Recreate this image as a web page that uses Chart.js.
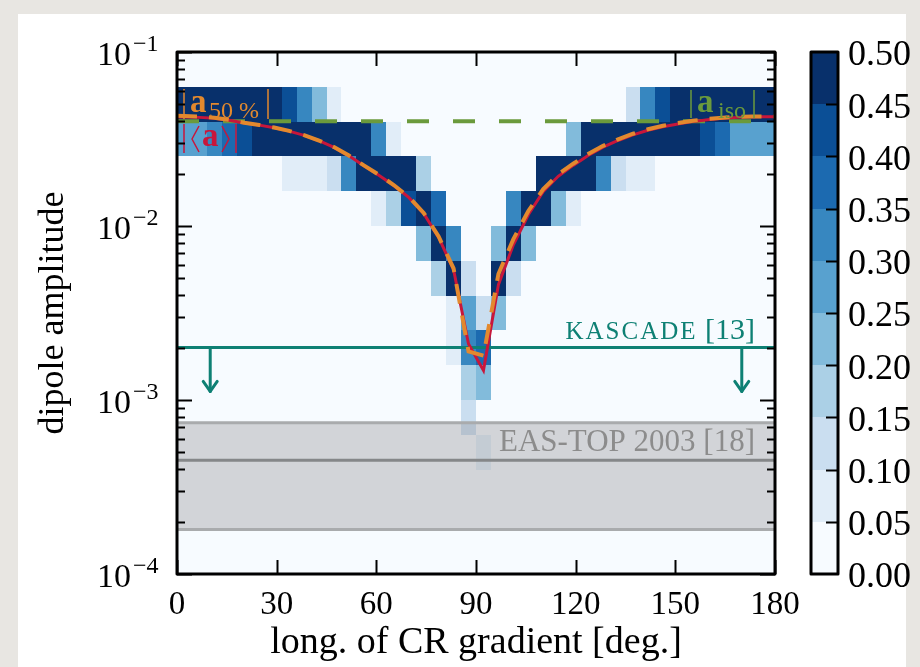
<!DOCTYPE html>
<html>
<head>
<meta charset="utf-8">
<script src="https://cdn.jsdelivr.net/npm/chart.js@4.4.0/dist/chart.umd.min.js"></script>
<style>
  html, body { margin: 0; padding: 0; background: #e8e6e2; }
  #wrap { width: 920px; height: 667px; }
</style>
</head>
<body>
<div id="wrap"><canvas id="dipoleChart" width="920" height="667"></canvas></div>
<script>
// longitude bins of the CR gradient are 4.5 deg. wide (40 bins over 0..180)
const lonBinWidth = 4.5;
// upper edge (log10 of dipole amplitude) of each histogram row, rows are 0.2 dex tall
const ampRowTop = [-1.2, -1.4, -1.6, -1.8, -2.0, -2.2, -2.4, -2.6, -2.8, -3.0, -3.2];
const ampRowHeight = 0.2;

// fraction of realisations in each cell, one array (40 lon bins) per amplitude row
const fracRows = [
  [0.5,0.5,0.5,0.5,0.5,0.5,0.5,0.42,0.32,0.22,0.07, 0,0,0,0,0,0,0,0,0,0,0,0,0,0,0,0,0,0,0, 0.12,0.32,0.42,0.5,0.5,0.5,0.5,0.5,0.5,0.5],
  [0.28,0.27,0.31,0.36,0.42, 0.5,0.5,0.5,0.5,0.5,0.5,0.5,0.5, 0.32,0.07, 0,0,0,0,0,0,0,0,0,0,0, 0.22, 0.5,0.5,0.5,0.5,0.5,0.5,0.5,0.5, 0.42,0.37,0.28,0.28,0.28],
  [0,0,0,0,0,0,0, 0.07,0.07,0.07,0.12,0.32, 0.5,0.5,0.5,0.5, 0.17, 0,0,0,0,0,0,0, 0.5,0.5,0.5,0.5, 0.32,0.12,0.07,0.07, 0,0,0,0,0,0,0,0],
  [0,0,0,0,0,0,0,0,0,0,0,0,0, 0.07,0.17,0.42,0.5,0.37, 0,0,0,0, 0.32,0.5,0.5,0.22,0.07, 0,0,0,0,0,0,0,0,0,0,0,0,0],
  [0,0,0,0,0,0,0,0,0,0,0,0,0,0,0,0, 0.22,0.5,0.32, 0,0, 0.22,0.5,0.22, 0,0,0,0,0,0,0,0,0,0,0,0,0,0,0,0],
  [0,0,0,0,0,0,0,0,0,0,0,0,0,0,0,0,0, 0.17,0.5,0.11, 0, 0.5,0.12, 0,0,0,0,0,0,0,0,0,0,0,0,0,0,0,0,0],
  [0,0,0,0,0,0,0,0,0,0,0,0,0,0,0,0,0,0, 0.08,0.28,0.12,0.21, 0,0,0,0,0,0,0,0,0,0,0,0,0,0,0,0,0,0],
  [0,0,0,0,0,0,0,0,0,0,0,0,0,0,0,0,0,0, 0.07,0.33,0.37, 0,0,0,0,0,0,0,0,0,0,0,0,0,0,0,0,0,0,0],
  [0,0,0,0,0,0,0,0,0,0,0,0,0,0,0,0,0,0,0, 0.17,0.22, 0,0,0,0,0,0,0,0,0,0,0,0,0,0,0,0,0,0,0],
  [0,0,0,0,0,0,0,0,0,0,0,0,0,0,0,0,0,0,0, 0.12,0, 0,0,0,0,0,0,0,0,0,0,0,0,0,0,0,0,0,0,0],
  [0,0,0,0,0,0,0,0,0,0,0,0,0,0,0,0,0,0,0, 0,0.08, 0,0,0,0,0,0,0,0,0,0,0,0,0,0,0,0,0,0,0]
];

// discrete Blues colour levels, 0.05 wide
const levelStep = 0.05;
const levelColors = ['#f7fbff', '#e1edf8', '#cadef0', '#abd0e6', '#82bbdb', '#58a1cf', '#3787c0', '#1c6ab0', '#0b4f96', '#08306b'];
const colorbarLabels = ['0.00', '0.05', '0.10', '0.15', '0.20', '0.25', '0.30', '0.35', '0.40', '0.45', '0.50'];

// reconstructed amplitudes vs. longitude (bin centres plus the two ends)
const curveLon = [0, 2.25, 6.75, 11.25, 15.75, 20.25, 24.75, 29.25, 33.75, 38.25, 42.75, 47.25, 51.75, 56.25, 60.75, 65.25, 69.75, 74.25, 78.75, 83.25, 87.75,
  92.25, 96.75, 101.25, 105.75, 110.25, 114.75, 119.25, 123.75, 128.25, 132.75, 137.25, 141.75, 146.25, 150.75, 155.25, 159.75, 164.25, 168.75, 173.25, 177.75, 180];
const meanAmp = [0.0423, 0.0423, 0.0421, 0.0416, 0.0405, 0.0391, 0.0380, 0.0367, 0.0351, 0.0332, 0.0309, 0.0283, 0.0253, 0.0222, 0.0196, 0.0171, 0.0146, 0.0118, 0.0086, 0.0056, 0.0021,
  0.00148, 0.0046, 0.0078, 0.0116, 0.0158, 0.0193, 0.0223, 0.0254, 0.0284, 0.0310, 0.0334, 0.0355, 0.0372, 0.0386, 0.0398, 0.0408, 0.0416, 0.0421, 0.0424, 0.0425, 0.0425];
const medianAmp = [0.0430, 0.0429, 0.0426, 0.0419, 0.0407, 0.0392, 0.0381, 0.0368, 0.0352, 0.0333, 0.0310, 0.0284, 0.0254, 0.0223, 0.0197, 0.0172, 0.0147, 0.0119, 0.0087, 0.0057, 0.0019,
  0.0018, 0.0053, 0.0084, 0.0122, 0.0163, 0.0198, 0.0228, 0.0259, 0.0289, 0.0315, 0.0339, 0.0360, 0.0377, 0.0391, 0.0403, 0.0412, 0.0419, 0.0424, 0.0426, 0.0426, 0.0426];

const isoAmp = 0.04;
const kascadeLimit = 2e-3;
const kascadeArrowLon = [10, 170];
const kascadeArrowTip = 1.12e-3;
// EAS-TOP 2003: upper edge, central value, lower edge
const easTop = [7.4e-4, 4.5e-4, 1.8e-4];

const xTicks = [0, 30, 60, 90, 120, 150, 180];
const yDecades = [-1, -2, -3, -4];

const SERIF = "'Liberation Serif', 'DejaVu Serif', serif";
const C_MEAN = '#c8163b';
const C_MEDIAN = '#e3892e';
const C_ISO = '#6b9a3c';
const C_KASCADE = '#0e8074';

function flat(v) {
  return [{ x: 0, y: v }, { x: 180, y: v }];
}

// page background, white card and the empty plot face
const backdrop = {
  id: 'backdrop',
  beforeDraw(chart) {
    const { ctx, chartArea: a } = chart;
    ctx.save();
    ctx.fillStyle = '#e8e6e2';
    ctx.fillRect(0, 0, chart.width, chart.height);
    ctx.fillStyle = '#ffffff';
    ctx.fillRect(18, 14, 888, chart.height - 14);
    ctx.fillStyle = levelColors[0];
    ctx.fillRect(a.left, a.top, a.right - a.left, a.bottom - a.top);
    ctx.restore();
  }
};

// 2D histogram cells
const heatmap = {
  id: 'heatmap',
  beforeDatasetsDraw(chart) {
    const { ctx, chartArea: a, scales: { x, y } } = chart;
    ctx.save();
    ctx.beginPath();
    ctx.rect(a.left, a.top, a.right - a.left, a.bottom - a.top);
    ctx.clip();
    fracRows.forEach((row, r) => {
      const yTop = Math.round(y.getPixelForValue(Math.pow(10, ampRowTop[r])));
      const yBot = Math.round(y.getPixelForValue(Math.pow(10, ampRowTop[r] - ampRowHeight)));
      row.forEach((f, i) => {
        const lvl = Math.min(levelColors.length - 1, Math.floor(f / levelStep + 1e-9));
        if (lvl <= 0) return;
        const x0 = Math.round(x.getPixelForValue(i * lonBinWidth));
        const x1 = Math.round(x.getPixelForValue((i + 1) * lonBinWidth));
        ctx.fillStyle = levelColors[lvl];
        ctx.fillRect(x0, yTop, x1 - x0, yBot - yTop);
      });
    });
    ctx.restore();
  }
};

function seg(ctx, x0, y0, x1, y1) {
  ctx.beginPath();
  ctx.moveTo(x0, y0);
  ctx.lineTo(x1, y1);
  ctx.stroke();
}

// arrows, text labels, frame, ticks and colorbar
const decorations = {
  id: 'decorations',
  afterDatasetsDraw(chart) {
    const { ctx, chartArea: a, scales: { x, y } } = chart;
    ctx.save();

    // KASCADE upper-limit arrows
    ctx.strokeStyle = C_KASCADE;
    ctx.lineWidth = 3;
    ctx.lineCap = 'round';
    ctx.lineJoin = 'round';
    kascadeArrowLon.forEach(lon => {
      const px = x.getPixelForValue(lon);
      const y0 = y.getPixelForValue(kascadeLimit);
      const y1 = y.getPixelForValue(kascadeArrowTip);
      seg(ctx, px, y0, px, y1);
      ctx.beginPath();
      ctx.moveTo(px - 7, y1 - 10);
      ctx.lineTo(px, y1);
      ctx.lineTo(px + 7, y1 - 10);
      ctx.stroke();
    });
    ctx.lineCap = 'butt';

    // KASCADE label in small caps
    const kY = y.getPixelForValue(kascadeLimit) - 9;
    ctx.fillStyle = C_KASCADE;
    ctx.textBaseline = 'alphabetic';
    ctx.textAlign = 'right';
    ctx.font = '30px ' + SERIF;
    const refTxt = ' [13]';
    const refW = ctx.measureText(refTxt).width;
    ctx.fillText(refTxt, a.right - 20, kY);
    ctx.font = '25px ' + SERIF;
    ctx.letterSpacing = '2px';
    ctx.fillText('KASCADE', a.right - 20 - refW, kY);
    ctx.letterSpacing = '0px';

    // EAS-TOP label
    ctx.fillStyle = '#8c8c8c';
    ctx.font = '31px ' + SERIF;
    ctx.fillText('EAS-TOP 2003 [18]', a.right - 20, y.getPixelForValue(easTop[1]) - 9);

    // |a_50%| label
    ctx.textAlign = 'left';
    ctx.strokeStyle = C_MEDIAN;
    ctx.fillStyle = C_MEDIAN;
    ctx.lineWidth = 1.5;
    seg(ctx, a.left + 7, a.top + 37, a.left + 7, a.top + 67);
    seg(ctx, a.left + 91, a.top + 37, a.left + 91, a.top + 67);
    ctx.font = 'bold 33px ' + SERIF;
    ctx.fillText('a', a.left + 13, a.top + 60);
    ctx.font = '24px ' + SERIF;
    ctx.fillText('50 %', a.left + 32, a.top + 66);

    // |<a>| label
    ctx.strokeStyle = C_MEAN;
    ctx.fillStyle = C_MEAN;
    seg(ctx, a.left + 7, a.top + 72, a.left + 7, a.top + 101);
    seg(ctx, a.left + 59, a.top + 72, a.left + 59, a.top + 101);
    ctx.beginPath();
    ctx.moveTo(a.left + 22, a.top + 74);
    ctx.lineTo(a.left + 15, a.top + 87);
    ctx.lineTo(a.left + 22, a.top + 100);
    ctx.stroke();
    ctx.beginPath();
    ctx.moveTo(a.left + 45, a.top + 74);
    ctx.lineTo(a.left + 52, a.top + 87);
    ctx.lineTo(a.left + 45, a.top + 100);
    ctx.stroke();
    ctx.font = 'bold 33px ' + SERIF;
    ctx.fillText('a', a.left + 25, a.top + 94);

    // |a_iso| label
    ctx.strokeStyle = C_ISO;
    ctx.fillStyle = C_ISO;
    seg(ctx, a.left + 514, a.top + 38, a.left + 514, a.top + 66);
    seg(ctx, a.left + 577, a.top + 38, a.left + 577, a.top + 66);
    ctx.font = 'bold 33px ' + SERIF;
    ctx.fillText('a', a.left + 520, a.top + 60);
    ctx.font = '24px ' + SERIF;
    ctx.fillText('iso', a.left + 541, a.top + 66);

    // frame
    ctx.strokeStyle = '#000';
    ctx.lineWidth = 3;
    ctx.strokeRect(a.left, a.top, a.right - a.left, a.bottom - a.top);

    // x ticks (inward, bottom and top)
    ctx.lineWidth = 2;
    xTicks.forEach(v => {
      const px = Math.round(x.getPixelForValue(v)) + 0.5;
      seg(ctx, px, a.bottom, px, a.bottom - 14);
      seg(ctx, px, a.top, px, a.top + 14);
    });

    // y ticks (log major + minor, inward, left and right)
    for (let e = -4; e <= -1; e++) {
      for (let m = 1; m <= 9; m++) {
        const v = m * Math.pow(10, e);
        if (v > 0.1 + 1e-12) break;
        const py = Math.round(y.getPixelForValue(v)) + 0.5;
        const len = m === 1 ? 15 : 8;
        seg(ctx, a.left, py, a.left + len, py);
        seg(ctx, a.right, py, a.right - len, py);
      }
    }

    // tick labels
    ctx.fillStyle = '#000';
    ctx.font = '33px ' + SERIF;
    ctx.textAlign = 'center';
    xTicks.forEach(v => {
      ctx.fillText(String(v), x.getPixelForValue(v), a.bottom + 40);
    });
    yDecades.forEach(e => {
      const py = y.getPixelForValue(Math.pow(10, e));
      ctx.font = '34px ' + SERIF;
      ctx.textAlign = 'right';
      ctx.fillText('10', a.left - 46, py + 13);
      ctx.font = '24px ' + SERIF;
      ctx.textAlign = 'left';
      ctx.fillText('\u2212' + Math.abs(e), a.left - 44, py - 1);
    });

    // axis titles
    ctx.font = '38px ' + SERIF;
    ctx.textAlign = 'center';
    ctx.fillText('long. of CR gradient [deg.]', (a.left + a.right) / 2, a.bottom + 79);
    ctx.font = '36px ' + SERIF;
    ctx.save();
    ctx.translate(63, (a.top + a.bottom) / 2);
    ctx.rotate(-Math.PI / 2);
    ctx.fillText('dipole amplitude', 0, 0);
    ctx.restore();

    // colorbar
    const cbL = 811, cbR = 838;
    const segH = (a.bottom - a.top) / (levelColors.length);
    levelColors.forEach((c, k) => {
      const y1 = a.bottom - k * segH;
      const y0 = a.bottom - (k + 1) * segH;
      ctx.fillStyle = c;
      ctx.fillRect(cbL, Math.round(y0), cbR - cbL, Math.round(y1) - Math.round(y0));
    });
    ctx.strokeStyle = '#000';
    ctx.lineWidth = 3;
    ctx.strokeRect(cbL, a.top, cbR - cbL, a.bottom - a.top);
    ctx.lineWidth = 2;
    ctx.fillStyle = '#000';
    ctx.font = '36px ' + SERIF;
    ctx.textAlign = 'left';
    ctx.textBaseline = 'middle';
    colorbarLabels.forEach((lab, k) => {
      const py = a.bottom - k * segH;
      if (k > 0 && k < colorbarLabels.length - 1) {
        seg(ctx, cbR, Math.round(py) + 0.5, cbR - 12, Math.round(py) + 0.5);
      }
      ctx.fillText(lab, 848, py + 4);
    });

    ctx.restore();
  }
};

new Chart(document.getElementById('dipoleChart'), {
  type: 'line',
  data: {
    datasets: [
      {
        label: 'a50%',
        data: curveLon.map((lon, k) => ({ x: lon, y: medianAmp[k] })),
        borderColor: C_MEDIAN, borderWidth: 4, borderDash: [20, 12], order: 0
      },
      {
        label: '<a>',
        data: curveLon.map((lon, k) => ({ x: lon, y: meanAmp[k] })),
        borderColor: C_MEAN, borderWidth: 3, order: 1
      },
      { label: 'a_iso', data: flat(isoAmp), borderColor: C_ISO, borderWidth: 4, borderDash: [22, 24], order: 2 },
      { label: 'KASCADE', data: flat(kascadeLimit), borderColor: C_KASCADE, borderWidth: 3, order: 3 },
      {
        label: 'EAS-TOP upper', data: flat(easTop[0]), borderColor: '#a9abad', borderWidth: 3,
        fill: '+2', backgroundColor: 'rgba(150,151,153,0.38)', order: 6
      },
      { label: 'EAS-TOP', data: flat(easTop[1]), borderColor: '#858789', borderWidth: 3, order: 4 },
      { label: 'EAS-TOP lower', data: flat(easTop[2]), borderColor: '#a9abad', borderWidth: 3, order: 5 }
    ]
  },
  options: {
    responsive: false,
    animation: false,
    devicePixelRatio: 1,
    layout: { padding: { left: 177, right: 145, top: 52, bottom: 93 } },
    elements: { point: { radius: 0 }, line: { tension: 0 } },
    plugins: { legend: { display: false }, tooltip: { enabled: false } },
    scales: {
      x: { type: 'linear', min: 0, max: 180, display: false },
      y: { type: 'logarithmic', min: 1e-4, max: 1e-1, display: false }
    }
  },
  plugins: [backdrop, heatmap, decorations]
});
</script>
</body>
</html>
